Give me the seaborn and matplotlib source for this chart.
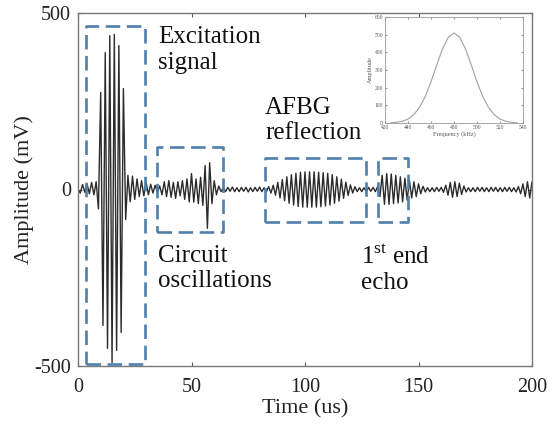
import numpy as np
import pandas as pd
import matplotlib
matplotlib.use("Agg")
import matplotlib.pyplot as plt
import seaborn as sns

# ==============================
# DATA (mV at 1 us steps)
# ==============================
pre_mv = [0, -10, 14, -8, 16, -12, 20, -15, 22, -55]                      # t = 0..9
excitation_mv = [275, -385, 388, -450, 436, -490, 439, -456, 408, -405, 286,
                 -85, 40, -35, 38, -28, 30, -20, 25, -18, 22, -15, 15, -10,
                 12, -8]                                                   # t = 10..35
circuit_mv = [10, -15, 22, -20, 25, -22, 20, -25, 22, -18, 25, -28, 30, -35,
              45, -36, 30, -40, 35, -45, 68, -110, 76, -40, 25, -15, 10, -6]  # t = 36..63
quiet_mv = [5, -6, 6, -5, 7, -6, 5, -6, 6, -5, 6, -7, 5, -6, 6, -5, 7, -6,
            5, -6, 8, -10]                                                 # t = 64..85
afbg_mv = [12, -16, 20, -24, 28, -32, 36, -39, 42, -44, 46, -48, 49, -50,
           50, -50, 50, -50, 50, -50, 49, -49, 48, -47, 46, -44, 42, -39,
           36, -33, 29, -25, 21, -17, 13, -10, 8, -6]                      # t = 86..123
gap_mv = [5, -6, 5, -6, 6, -5, 6, -6, 8]                                   # t = 124..132
echo_mv = [-20, 40, -42, 45, -42, 44, -40, 40, -38, 36, -35, 32, -30,
           26, -24, 22, -20, 16, -12, 9, -7]                               # t = 133..153
tail_mv = [5, -6, 5, -6, 6, -5, 6, -8,
           12, -16, 20, -22, 22, -20, 18, -14, 10, -7,
           5, -6, 5, -6, 6, -5, 6, -6, 5, -6, 6, -5, 6, -6, 5, -6, 6, -5,
           6, -6, 5, -7, 8,
           -12, 16, -20, 22, -24, 22]                                      # t = 154..200

freq_khz = [425, 430, 435, 440, 445, 450, 455, 460, 465, 470, 475, 480,
            485, 490, 495, 500, 505, 510, 515, 520, 525, 530, 535]
spec_amp = [1, 4, 10, 22, 47, 88, 150, 233, 329, 419, 485, 510,
            485, 419, 329, 233, 150, 88, 47, 22, 10, 4, 1]

x_ticks = [0, 50, 100, 150, 200]
y_ticks = [-500, 0, 500]

signal = pre_mv + excitation_mv + circuit_mv + quiet_mv + afbg_mv + gap_mv + echo_mv + tail_mv
df = pd.DataFrame({"time": np.arange(len(signal)), "amp": signal})
spec = pd.DataFrame({"freq": freq_khz, "amp": spec_amp})

# boxes: (t0, t1, a0, a1)
boxes = [(3.5, 29.5, -493, 464),
         (34.8, 64.0, -120, 119),
         (82.4, 126.7, -93, 90),
         (132.3, 145.5, -93, 90)]

# ==============================
# PLOT
# ==============================
sns.set_style("ticks")
plt.rcParams["font.family"] = ["Liberation Serif", "DejaVu Serif"]
plt.rcParams["mathtext.fontset"] = "custom"
plt.rcParams["mathtext.rm"] = "Liberation Serif"
plt.rcParams["axes.unicode_minus"] = False

fig = plt.figure(figsize=(5.48, 4.24), dpi=100)
ax = fig.add_axes([78 / 548, 1 - 366 / 424, 454 / 548, 353 / 424])

sns.lineplot(data=df, x="time", y="amp", ax=ax, color="#2b2b2b", lw=1.0,
             estimator=None, sort=False)

box_col = "#4f7fab"
for t0, t1, a0, a1 in boxes:
    ax.plot([t0, t1, t1, t0, t0], [a0, a0, a1, a1, a0], color=box_col, lw=1.9,
            dashes=(5.5, 2.5), zorder=3)

ax.set_xlim(0, 200)
ax.set_ylim(-500, 500)
ax.set_xticks(x_ticks)
ax.set_yticks(y_ticks)
ax.tick_params(direction="in", top=True, right=True, labelsize=14.5, colors="#555555",
               labelcolor="#222222", length=3, pad=5)
ax.tick_params(axis="x", pad=9)
for s in ax.spines.values():
    s.set_color("#777777")
    s.set_linewidth(1.0)
ax.set_xlabel("Time (us)", fontsize=16, color="#222222", labelpad=1)
ax.set_ylabel("Amplitude (mV)", fontsize=16, color="#222222", labelpad=0)

txt = dict(fontsize=18, color="#111111", va="top", ha="left", linespacing=1.2)
ax.text(35.2, 462, "Excitation\nsignal", **txt)
ax.text(82.4, 262, "AFBG\nreflection", **txt)
ax.text(35.2, -156, "Circuit\noscillations", **txt)
ax.text(124.7, -156, "1$^{\\rm st}$ end\necho", **txt)

# inset spectrum
ins = fig.add_axes([385 / 548, 1 - 123 / 424, 138 / 548, 106 / 424])
sns.lineplot(data=spec, x="freq", y="amp", ax=ins, color="#a0a0a0", lw=0.8)
ins.set_xlim(420, 540)
ins.set_ylim(0, 600)
ins.set_xticks(range(420, 541, 20))
ins.set_yticks(range(0, 601, 100))
ins.tick_params(direction="in", top=True, right=True, labelsize=4, length=1.5,
                colors="#999999", labelcolor="#555555", pad=1.5)
for s in ins.spines.values():
    s.set_color("#999999")
    s.set_linewidth(0.6)
ins.set_xlabel("Frequency (kHz)", fontsize=4.5, color="#555555", labelpad=1)
ins.set_ylabel("Amplitude", fontsize=4.5, color="#555555", labelpad=1)

fig.savefig("out.png", dpi=100)
